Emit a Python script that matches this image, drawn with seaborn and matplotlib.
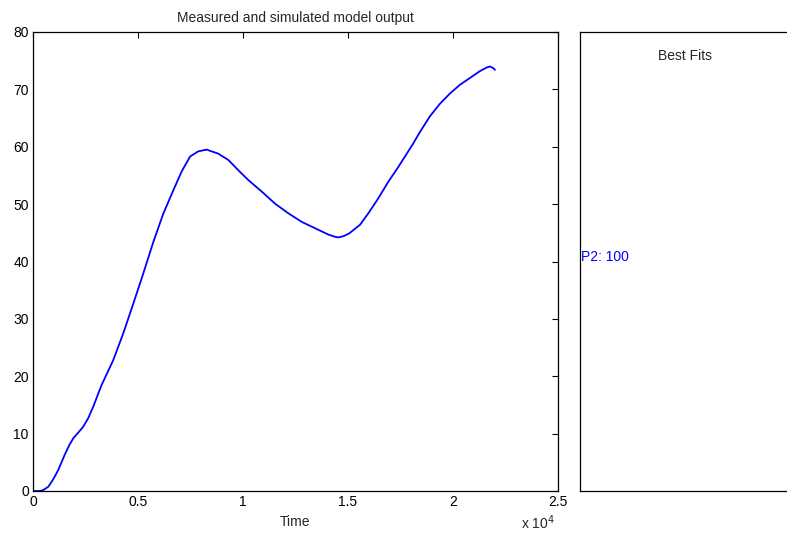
import matplotlib
matplotlib.use("Agg")
import matplotlib.pyplot as plt
import matplotlib.ticker as mticker
import seaborn as sns

# simulated model output
time = [0, 330, 490, 730, 890, 1050, 1200, 1370, 1520, 1730, 1920, 2160, 2390,
        2630, 2870, 3110, 3270, 3820, 4300, 4780, 5250, 5730, 6200, 6680, 7080,
        7480, 7870, 8270, 8820, 9300, 9780, 10250, 10890, 11520, 12160, 12800,
        13430, 14060, 14380, 14540, 14780, 15060, 15570, 15970, 16440, 16920,
        17400, 17800, 18110, 18430, 18900, 19380, 19860, 20330, 20810, 21290,
        21600, 21760, 21920, 22000]
output = [0, 0, 0.17, 0.75, 1.62, 2.61, 3.66, 5.1, 6.4, 8.0, 9.2, 10.2, 11.2,
          12.7, 14.7, 17.0, 18.5, 22.8, 27.5, 32.7, 37.9, 43.4, 48.3, 52.4, 55.7,
          58.3, 59.2, 59.5, 58.8, 57.7, 55.9, 54.2, 52.2, 50.1, 48.4, 46.9,
          45.8, 44.7, 44.3, 44.2, 44.4, 44.9, 46.4, 48.4, 51.0, 53.9,
          56.5, 58.8, 60.6, 62.6, 65.3, 67.5, 69.3, 70.8, 72.0, 73.2,
          73.8, 74.0, 73.7, 73.4]

best_label = "P2: 100"

sns.set_style("white")
plt.rcParams["font.family"] = ["Liberation Sans", "DejaVu Sans"]

fig = plt.figure(figsize=(7.87, 5.33), dpi=100)
ax = fig.add_axes([33 / 787, 42 / 533, 525 / 787, 459 / 533])
ax2 = fig.add_axes([580 / 787, 42 / 533, 210 / 787, 459 / 533])

sns.lineplot(x=time, y=output, sort=False, color="#0000ff", lw=1.3, ax=ax)
ax.set_xlim(0, 25000)
ax.set_ylim(0, 80)
ax.set_xticks([0, 5000, 10000, 15000, 20000, 25000])
ax.set_yticks(range(0, 81, 10))
ax.xaxis.set_major_formatter(mticker.FuncFormatter(lambda v, p: f"{v / 1e4:g}"))
ax.tick_params(direction="in", length=4, width=0.8, top=True, right=True,
               labelsize=10, pad=3, colors="black")
ax.set_title("Measured and simulated model output", fontsize=10, pad=7)
ax.set_xlabel("Time", fontsize=10, labelpad=4)
ax.text(0.995, -0.083, "x 10$^4$", transform=ax.transAxes, ha="right",
        va="baseline", fontsize=10)
for s in ax.spines.values():
    s.set_color("black")
    s.set_linewidth(0.9)

ax2.set_xticks([])
ax2.set_yticks([])
ax2.set_xlim(0, 1)
ax2.set_ylim(0, 1)
for s in ax2.spines.values():
    s.set_color("black")
    s.set_linewidth(0.9)
ax2.text(0.5, 0.962, "Best Fits", ha="center", va="top", fontsize=10,
         transform=ax2.transAxes)
ax2.text(0.005, 0.51, best_label, ha="left", va="center", fontsize=10,
         color="#0000ff", transform=ax2.transAxes)

fig.savefig("out.png", dpi=100)
